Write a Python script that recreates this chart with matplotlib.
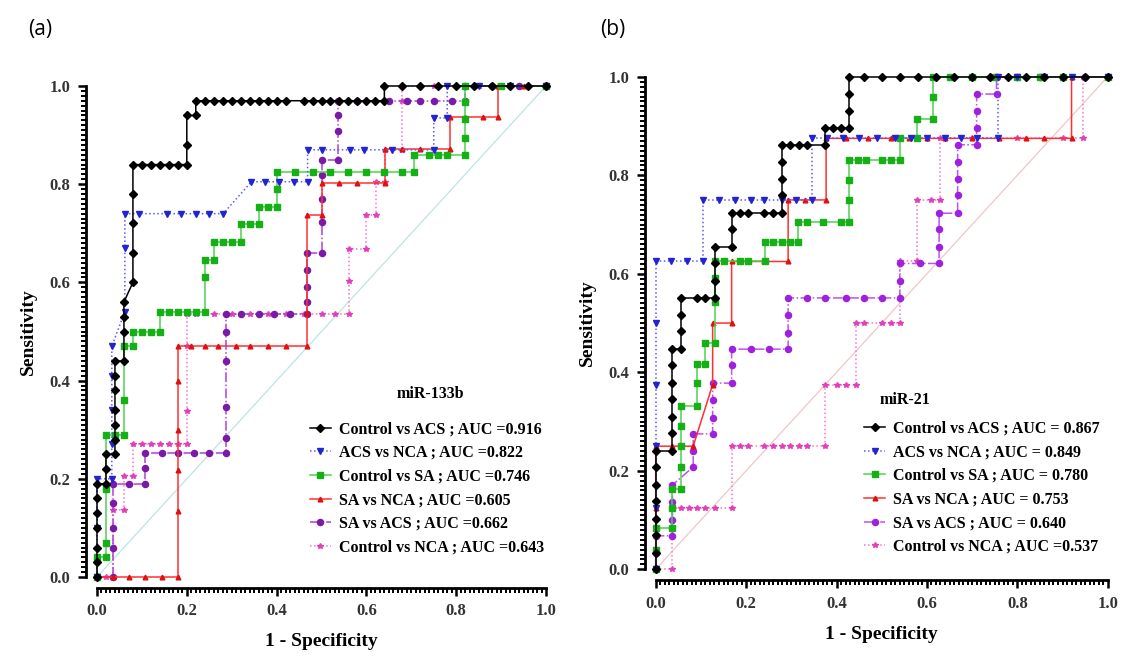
import matplotlib
matplotlib.use("Agg")
import matplotlib.pyplot as plt
from matplotlib.ticker import MultipleLocator

# ---- panel (a): miR-133b ----
a_ctrl_acs_x = [0, 0, 0, 0, 0, 0, 0, 0.02, 0.02, 0.02, 0.04, 0.04, 0.04, 0.04, 0.04, 0.04, 0.04,
                0.06, 0.06, 0.06, 0.06, 0.08, 0.08, 0.08, 0.08, 0.08,
                0.10, 0.12, 0.14, 0.16, 0.18, 0.20, 0.20, 0.20, 0.22, 0.22,
                0.24, 0.26, 0.28, 0.30, 0.32, 0.34, 0.36, 0.38, 0.40, 0.42, 0.46, 0.48, 0.50, 0.52,
                0.54, 0.56, 0.58, 0.60, 0.62, 0.64, 0.64, 0.68, 0.72, 0.76, 0.80, 0.84, 0.88, 0.92, 0.96, 1.0]
a_ctrl_acs_y = [0, 0.03, 0.06, 0.10, 0.13, 0.16, 0.19, 0.19, 0.22, 0.25, 0.25, 0.28, 0.31, 0.34, 0.38, 0.41, 0.44,
                0.44, 0.50, 0.53, 0.56, 0.60, 0.66, 0.72, 0.78, 0.84,
                0.84, 0.84, 0.84, 0.84, 0.84, 0.84, 0.88, 0.94, 0.94, 0.97,
                0.97, 0.97, 0.97, 0.97, 0.97, 0.97, 0.97, 0.97, 0.97, 0.97, 0.97, 0.97, 0.97, 0.97,
                0.97, 0.97, 0.97, 0.97, 0.97, 0.97, 1.0, 1.0, 1.0, 1.0, 1.0, 1.0, 1.0, 1.0, 1.0, 1.0]

a_acs_nca_x = [0, 0, 0, 0.033, 0.033, 0.033, 0.033, 0.033, 0.062, 0.062, 0.062,
               0.094, 0.156, 0.188, 0.22, 0.25, 0.281, 0.344, 0.375, 0.406, 0.438, 0.469,
               0.469, 0.5, 0.563, 0.594, 0.656, 0.75, 0.75, 0.78, 0.78, 0.85, 0.92, 1.0]
a_acs_nca_y = [0, 0.10, 0.20, 0.20, 0.27, 0.34, 0.41, 0.47, 0.54, 0.67, 0.74,
               0.74, 0.74, 0.74, 0.74, 0.74, 0.74, 0.805, 0.805, 0.805, 0.805, 0.805,
               0.87, 0.87, 0.87, 0.87, 0.87, 0.87, 0.935, 0.935, 1.0, 1.0, 1.0, 1.0]

a_ctrl_sa_x = [0, 0, 0.02, 0.02, 0.02, 0.02, 0.04, 0.06, 0.06, 0.06, 0.08, 0.08, 0.10, 0.12, 0.14,
               0.14, 0.16, 0.18, 0.20, 0.22, 0.24, 0.24, 0.24, 0.26, 0.26, 0.28, 0.30, 0.32,
               0.32, 0.34, 0.36, 0.36, 0.38, 0.40, 0.40, 0.40, 0.44, 0.48, 0.52, 0.56, 0.60, 0.64, 0.68, 0.705,
               0.705, 0.74, 0.76, 0.78, 0.82, 0.82, 0.82, 0.82, 0.82, 0.9, 1.0]
a_ctrl_sa_y = [0, 0.04, 0.04, 0.07, 0.18, 0.29, 0.29, 0.29, 0.36, 0.47, 0.47, 0.50, 0.50, 0.50, 0.50,
               0.54, 0.54, 0.54, 0.54, 0.54, 0.54, 0.61, 0.646, 0.646, 0.682, 0.682, 0.682, 0.682,
               0.718, 0.718, 0.718, 0.754, 0.754, 0.754, 0.79, 0.825, 0.825, 0.825, 0.825, 0.825, 0.825, 0.825, 0.825, 0.825,
               0.86, 0.86, 0.86, 0.86, 0.86, 0.894, 0.932, 0.968, 1.0, 1.0, 1.0]

a_sa_nca_x = [0, 0.036, 0.072, 0.108, 0.144, 0.18, 0.18, 0.18, 0.18, 0.18, 0.18,
              0.21, 0.24, 0.27, 0.31, 0.34, 0.38, 0.42, 0.467, 0.467, 0.467, 0.5, 0.5,
              0.54, 0.58, 0.641, 0.641, 0.68, 0.72, 0.786, 0.786, 0.82, 0.86, 0.894, 0.894, 0.95, 1.0]
a_sa_nca_y = [0, 0, 0, 0, 0, 0, 0.135, 0.218, 0.30, 0.40, 0.47,
              0.47, 0.47, 0.47, 0.47, 0.47, 0.47, 0.47, 0.47, 0.537, 0.737, 0.737, 0.803,
              0.803, 0.803, 0.803, 0.871, 0.871, 0.871, 0.871, 0.937, 0.937, 0.937, 0.937, 1.0, 1.0, 1.0]

a_sa_acs_x = [0, 0.036, 0.036, 0.036, 0.036, 0.036, 0.072, 0.108, 0.108, 0.108,
              0.144, 0.18, 0.215, 0.25, 0.287, 0.287, 0.287, 0.287, 0.287, 0.287,
              0.32, 0.36, 0.395, 0.43, 0.467, 0.467, 0.467, 0.467, 0.467, 0.5,
              0.5, 0.5, 0.5, 0.5, 0.537, 0.537, 0.537, 0.537,
              0.58, 0.65, 0.69, 0.72, 0.75, 0.79, 0.82, 0.82, 0.88, 0.94, 1.0]
a_sa_acs_y = [0, 0, 0.06, 0.10, 0.15, 0.19, 0.19, 0.19, 0.222, 0.252,
              0.252, 0.252, 0.252, 0.252, 0.252, 0.284, 0.347, 0.44, 0.50, 0.536,
              0.536, 0.536, 0.536, 0.536, 0.536, 0.56, 0.59, 0.625, 0.66, 0.66,
              0.723, 0.77, 0.818, 0.849, 0.849, 0.908, 0.94, 0.97,
              0.97, 0.97, 0.97, 0.97, 0.97, 0.97, 0.97, 1.0, 1.0, 1.0, 1.0]

a_ctrl_nca_x = [0, 0.02, 0.036, 0.036, 0.06, 0.06, 0.081, 0.081,
                0.10, 0.12, 0.14, 0.16, 0.18, 0.20, 0.20, 0.20, 0.20,
                0.22, 0.26, 0.30, 0.34, 0.38, 0.42, 0.46, 0.50, 0.53, 0.562,
                0.562, 0.562, 0.60, 0.60, 0.621, 0.621, 0.641, 0.641, 0.68, 0.68, 0.68, 0.75, 0.85, 1.0]
a_ctrl_nca_y = [0, 0, 0, 0.137, 0.137, 0.205, 0.205, 0.27,
                0.27, 0.27, 0.27, 0.27, 0.27, 0.27, 0.339, 0.47, 0.536,
                0.536, 0.536, 0.536, 0.536, 0.536, 0.536, 0.536, 0.536, 0.536, 0.536,
                0.603, 0.669, 0.669, 0.737, 0.737, 0.805, 0.805, 0.87, 0.87, 0.97, 1.0, 1.0, 1.0, 1.0]

# ---- panel (b): miR-21 ----
b_ctrl_acs_x = [0, 0, 0, 0, 0, 0, 0, 0, 0.037, 0.037, 0.037, 0.037, 0.037, 0.037, 0.037, 0.055,
                0.055, 0.055, 0.055, 0.092, 0.11, 0.131, 0.131, 0.131, 0.131, 0.168, 0.168, 0.168,
                0.186, 0.205, 0.24, 0.26, 0.279, 0.279, 0.279, 0.279, 0.279, 0.298, 0.316, 0.335, 0.375,
                0.375, 0.393, 0.41, 0.428, 0.428, 0.428, 0.428,
                0.46, 0.5, 0.54, 0.58, 0.62, 0.66, 0.7, 0.74, 0.78, 0.82, 0.86, 0.9, 0.95, 1.0]
b_ctrl_acs_y = [0, 0.034, 0.069, 0.103, 0.138, 0.172, 0.207, 0.241, 0.241, 0.276, 0.31, 0.345, 0.379, 0.414, 0.447, 0.447,
                0.483, 0.517, 0.551, 0.551, 0.551, 0.551, 0.586, 0.621, 0.655, 0.655, 0.69, 0.723,
                0.723, 0.723, 0.723, 0.723, 0.723, 0.759, 0.793, 0.828, 0.862, 0.862, 0.862, 0.862, 0.862,
                0.897, 0.897, 0.897, 0.897, 0.931, 0.966, 1.0,
                1.0, 1.0, 1.0, 1.0, 1.0, 1.0, 1.0, 1.0, 1.0, 1.0, 1.0, 1.0, 1.0, 1.0]

b_acs_nca_x = [0, 0, 0, 0, 0, 0, 0.034, 0.07, 0.104, 0.104, 0.14, 0.175, 0.21, 0.24, 0.279, 0.31, 0.345,
               0.345, 0.38, 0.415, 0.45, 0.49, 0.53, 0.565, 0.6, 0.64, 0.675, 0.71, 0.758,
               0.758, 0.8, 0.86, 0.92, 1.0]
b_acs_nca_y = [0, 0.125, 0.25, 0.375, 0.5, 0.625, 0.625, 0.625, 0.625, 0.75, 0.75, 0.75, 0.75, 0.75, 0.75, 0.75, 0.75,
               0.875, 0.875, 0.875, 0.875, 0.875, 0.875, 0.875, 0.875, 0.875, 0.875, 0.875, 0.875,
               1.0, 1.0, 1.0, 1.0, 1.0]

b_ctrl_sa_x = [0, 0, 0, 0.037, 0.037, 0.037, 0.055, 0.055, 0.055, 0.055, 0.055, 0.092, 0.092, 0.092, 0.11, 0.11,
               0.131, 0.131, 0.131, 0.131, 0.15, 0.186, 0.205, 0.242, 0.242, 0.26, 0.279, 0.298, 0.315,
               0.315, 0.335, 0.37, 0.41, 0.428, 0.428, 0.428, 0.428, 0.448, 0.465, 0.5, 0.52, 0.54,
               0.54, 0.577, 0.577, 0.614, 0.614, 0.614, 0.65, 0.7, 0.75, 0.8, 0.85, 0.9, 1.0]
b_ctrl_sa_y = [0, 0.04, 0.083, 0.083, 0.125, 0.164, 0.164, 0.208, 0.25, 0.29, 0.332, 0.332, 0.378, 0.417, 0.417, 0.459,
               0.459, 0.543, 0.591, 0.625, 0.625, 0.625, 0.625, 0.625, 0.665, 0.665, 0.665, 0.665, 0.665,
               0.706, 0.706, 0.706, 0.706, 0.706, 0.75, 0.79, 0.832, 0.832, 0.832, 0.832, 0.832, 0.832,
               0.875, 0.875, 0.914, 0.914, 0.958, 1.0, 1.0, 1.0, 1.0, 1.0, 1.0, 1.0, 1.0]

b_sa_nca_x = [0, 0, 0, 0.037, 0.083, 0.126, 0.126, 0.168, 0.168, 0.205, 0.24, 0.293, 0.293, 0.33, 0.377,
              0.377, 0.42, 0.47, 0.52, 0.56, 0.6, 0.64, 0.7, 0.76, 0.82, 0.86, 0.92, 0.92, 1.0]
b_sa_nca_y = [0, 0.125, 0.25, 0.25, 0.25, 0.375, 0.5, 0.5, 0.625, 0.625, 0.625, 0.625, 0.75, 0.75, 0.75,
              0.875, 0.875, 0.875, 0.875, 0.875, 0.875, 0.875, 0.875, 0.875, 0.875, 0.875, 0.875, 1.0, 1.0]

b_sa_acs_x = [0, 0, 0, 0.037, 0.037, 0.037, 0.037, 0.083, 0.083, 0.083, 0.126, 0.126, 0.126, 0.126,
              0.168, 0.168, 0.168, 0.21, 0.25, 0.293, 0.293, 0.293, 0.293,
              0.335, 0.375, 0.42, 0.46, 0.5, 0.54, 0.54, 0.54, 0.585, 0.627, 0.627, 0.627, 0.627,
              0.668, 0.668, 0.668, 0.668, 0.668, 0.71, 0.71, 0.71, 0.71, 0.754, 0.754,
              0.8, 0.85, 0.9, 0.95, 1.0]
b_sa_acs_y = [0, 0.034, 0.068, 0.068, 0.10, 0.137, 0.171, 0.208, 0.24, 0.275, 0.275, 0.308, 0.343, 0.378,
              0.378, 0.415, 0.447, 0.447, 0.447, 0.447, 0.479, 0.516, 0.551,
              0.551, 0.551, 0.551, 0.551, 0.551, 0.551, 0.586, 0.621, 0.621, 0.621, 0.655, 0.69, 0.723,
              0.723, 0.76, 0.793, 0.828, 0.862, 0.862, 0.897, 0.931, 0.965, 0.965, 1.0,
              1.0, 1.0, 1.0, 1.0, 1.0]

b_ctrl_nca_x = [0, 0.037, 0.037, 0.055, 0.074, 0.092, 0.11, 0.131, 0.168, 0.168,
                0.186, 0.205, 0.24, 0.26, 0.279, 0.298, 0.316, 0.335, 0.375, 0.375, 0.4, 0.42, 0.444,
                0.444, 0.46, 0.5, 0.52, 0.54, 0.54, 0.577, 0.577, 0.61, 0.63, 0.63,
                0.7, 0.8, 0.9, 0.946, 0.946, 1.0]
b_ctrl_nca_y = [0, 0, 0.125, 0.125, 0.125, 0.125, 0.125, 0.125, 0.125, 0.25,
                0.25, 0.25, 0.25, 0.25, 0.25, 0.25, 0.25, 0.25, 0.25, 0.375, 0.375, 0.375, 0.375,
                0.5, 0.5, 0.5, 0.5, 0.5, 0.625, 0.625, 0.75, 0.75, 0.75, 0.875,
                0.875, 0.875, 0.875, 0.875, 1.0, 1.0]

a_labels = ["Control vs ACS ; AUC =0.916", "ACS vs NCA ; AUC =0.822", "Control vs SA ; AUC =0.746",
            "SA vs NCA ; AUC =0.605", "SA vs ACS ; AUC =0.662", "Control vs NCA ; AUC =0.643"]
b_labels = ["Control vs ACS ; AUC = 0.867", "ACS vs NCA ; AUC = 0.849", "Control vs SA ; AUC = 0.780",
            "SA vs NCA ; AUC = 0.753", "SA vs ACS ; AUC = 0.640", "Control vs NCA ; AUC =0.537"]

# style per comparison: (line colour, marker colour, linestyle, marker, size)
styles = [
    ("#000000", "#000000", "-", "D", 3.6),
    ("#5a5aff", "#2323d0", ":", "v", 4.0),
    ("#4fd04f", "#15b015", "-", "s", 4.6),
    ("#ff3030", "#e01010", "-", "^", 3.4),
    ("#b040d8", "#7a1aa8", "-.", "o", 4.4),
    ("#ff70d0", "#e040b8", ":", "*", 4.2),
]
styles_b = list(styles)
styles_b[4] = ("#c050f0", "#a020e0", "-.", "o", 4.4)

serif = "Liberation Serif"
plt.rcParams["font.family"] = serif
plt.rcParams["font.weight"] = "bold"

fig = plt.figure(figsize=(11.23, 6.59), dpi=100)
ax_a = fig.add_axes([97 / 1123, 1 - 577 / 659, 449 / 1123, 491 / 659])
ax_b = fig.add_axes([655.7 / 1123, 1 - 569.3 / 659, 452 / 1123, 492.5 / 659])


def draw(ax, series, labels, sty, diag_col, tag, tag_xy, leg_xy):
    ax.plot([0, 1], [0, 1], color=diag_col, lw=0.9, zorder=1)
    order = [5, 4, 3, 2, 1, 0]
    handles = [None] * 6
    for i in order:
        xs, ys = series[i]
        lc, mc, ls, mk, ms = sty[i]
        ln, = ax.plot(xs, ys, color=lc, ls=ls, lw=1.1, marker=mk, ms=ms,
                      mfc=mc, mec=mc, clip_on=False, zorder=3 + (6 - i))
        handles[i] = ln
    ax.set_xlim(0, 1)
    ax.set_ylim(0, 1)
    for s in ["top", "right"]:
        ax.spines[s].set_visible(False)
    for s in ["left", "bottom"]:
        ax.spines[s].set_position(("outward", 8))
        ax.spines[s].set_linewidth(2.0)
    ax.spines["left"].set_bounds(0, 1)
    ax.spines["bottom"].set_bounds(0, 1)
    ax.xaxis.set_major_locator(MultipleLocator(0.2))
    ax.yaxis.set_major_locator(MultipleLocator(0.2))
    ax.xaxis.set_minor_locator(MultipleLocator(0.01))
    ax.yaxis.set_minor_locator(MultipleLocator(0.01))
    ax.tick_params(which="major", length=6, width=1.8, labelsize=12, pad=5)
    ax.tick_params(which="minor", length=3.5, width=1.4)
    for t in ax.get_xticklabels() + ax.get_yticklabels():
        t.set_fontweight("bold")
        t.set_color("#333333")
    ax.set_xlabel("1 - Specificity", fontsize=14, fontweight="bold", labelpad=10)
    ax.set_ylabel("Sensitivity", fontsize=14, fontweight="bold", labelpad=9)
    ax.text(tag_xy[0], tag_xy[1], tag, transform=ax.transAxes, fontsize=11.5,
            fontweight="bold", ha="center", va="center")
    ax.legend(handles, labels, loc="upper left", bbox_to_anchor=leg_xy, frameon=False,
              prop={"family": serif, "weight": "bold", "size": 11.5},
              handlelength=1.3, handletextpad=0.5, labelspacing=0.48, borderaxespad=0)


series_a = [(a_ctrl_acs_x, a_ctrl_acs_y), (a_acs_nca_x, a_acs_nca_y), (a_ctrl_sa_x, a_ctrl_sa_y),
            (a_sa_nca_x, a_sa_nca_y), (a_sa_acs_x, a_sa_acs_y), (a_ctrl_nca_x, a_ctrl_nca_y)]
series_b = [(b_ctrl_acs_x, b_ctrl_acs_y), (b_acs_nca_x, b_acs_nca_y), (b_ctrl_sa_x, b_ctrl_sa_y),
            (b_sa_nca_x, b_sa_nca_y), (b_sa_acs_x, b_sa_acs_y), (b_ctrl_nca_x, b_ctrl_nca_y)]

draw(ax_a, series_a, a_labels, styles, "#bfe3e3", "miR-133b", (0.742, 0.373), (0.46, 0.33))
draw(ax_b, series_b, b_labels, styles_b, "#f0c6c6", "miR-21", (0.552, 0.344), (0.447, 0.315))

fig.text(40 / 1123, 1 - 30 / 659, "(a)", fontsize=15, family="Open Sans", fontweight="normal",
         ha="center", va="center")
fig.text(613 / 1123, 1 - 30 / 659, "(b)", fontsize=15, family="Open Sans", fontweight="normal",
         ha="center", va="center")

fig.savefig("out.png", dpi=100, facecolor="white")
